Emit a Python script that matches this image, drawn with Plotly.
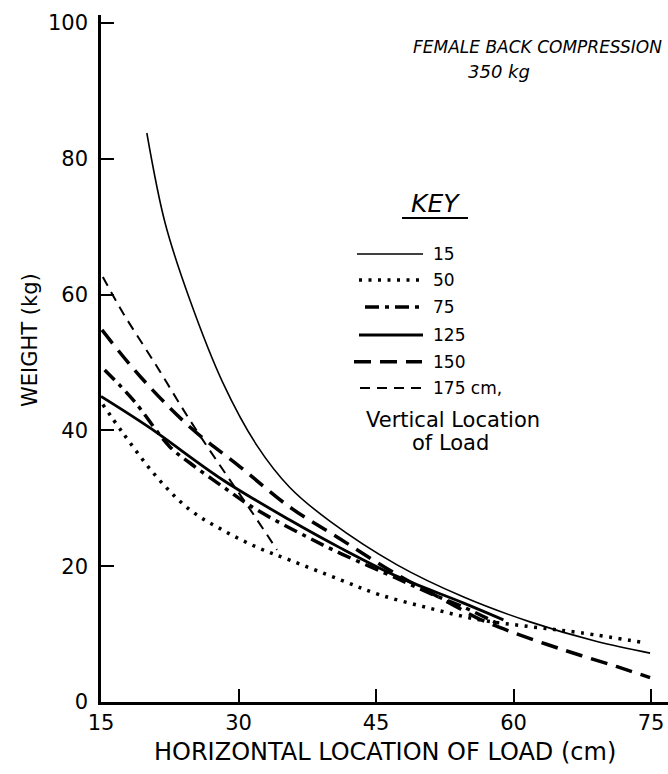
import plotly.graph_objects as go

# ---- data ----
x_15 = [20.0, 22.0, 24.7, 28.3, 32.0, 35.6, 40.0, 47.3, 54.5, 61.8, 69.1, 74.9]
y_15 = [83.8, 70.5, 59.2, 47.0, 37.8, 31.6, 26.6, 20.2, 15.5, 11.8, 8.9, 7.2]

x_50 = [15.2, 17.4, 21.1, 24.7, 28.3, 32.0, 35.6, 41.1, 45.4, 50.9, 56.3, 61.8, 67.3, 74.5]
y_50 = [43.8, 39.6, 33.1, 28.3, 25.3, 22.8, 20.9, 18.0, 15.8, 13.8, 12.1, 11.1, 10.2, 8.7]

x_75 = [15.4, 18.5, 22.5, 24.7, 28.3, 32.0, 37.5, 41.1, 47.3, 50.9, 54.5, 58.2]
y_75 = [48.9, 44.5, 37.6, 35.2, 31.7, 28.3, 24.3, 21.9, 18.2, 16.0, 14.0, 11.6]

x_125 = [15.0, 20.3, 28.3, 35.6, 41.1, 47.3, 54.5, 58.9]
y_125 = [45.0, 40.4, 32.7, 26.8, 22.7, 18.5, 14.6, 12.1]

x_150 = [15.1, 19.3, 24.7, 30.2, 35.6, 41.1, 47.0, 53.0, 56.0, 59.6, 65.4, 71.3, 74.9]
y_150 = [54.8, 47.9, 40.5, 34.6, 28.7, 24.0, 19.0, 14.6, 12.4, 10.4, 7.7, 5.2, 3.6]

x_175 = [15.2, 17.4, 21.1, 24.7, 28.3, 31.3, 34.2]
y_175 = [62.6, 57.3, 49.4, 41.5, 34.2, 28.3, 22.4]

x_ticks = [15, 30, 45, 60, 75]
y_ticks = [0, 20, 40, 60, 80, 100]
key_labels = ["15", "50", "75", "125", "150", "175 cm,"]

# ---- styles ----
styles = [
    dict(width=1.6, dash="solid"),
    dict(width=3.5, dash="3px,6.5px"),
    dict(width=3.5, dash="14px,6px,4px,6px"),
    dict(width=2.8, dash="solid"),
    dict(width=3.5, dash="17px,9px"),
    dict(width=2.0, dash="10px,7px"),
]
series = [(x_15, y_15), (x_50, y_50), (x_75, y_75),
          (x_125, y_125), (x_150, y_150), (x_175, y_175)]

W, H = 668, 774
L, R, T, B = 101, 0, 15, 72
FONT = "DejaVu Sans"


def pxx(xp):
    return (xp - L) / (W - L - R)


def pxy(yp):
    return (H - B - yp) / (H - T - B)


def label(text, xp, yp, size, xanchor="center", angle=0):
    return dict(text=text, x=pxx(xp), y=pxy(yp), xref="paper", yref="paper",
                xanchor=xanchor, yanchor="middle", showarrow=False, textangle=angle,
                font=dict(family=FONT, size=size, color="black"))


fig = go.Figure()
for (xs, ys), st, name in zip(series, styles, key_labels):
    fig.add_trace(go.Scatter(
        x=xs, y=ys, mode="lines", name=name,
        line=dict(color="black", width=st["width"], dash=st["dash"],
                  shape="spline", smoothing=1.0),
        showlegend=False, hoverinfo="x+y"))

annotations = []
shapes = []

# title
annotations.append(label("<i>FEMALE BACK COMPRESSION</i>", 664, 47, 17, xanchor="right"))
annotations.append(label("<i>350 kg</i>", 499, 71, 18))
# key
annotations.append(label("<i>KEY</i>", 435, 204, 25))
shapes.append(dict(type="line", xref="paper", yref="paper",
                   x0=pxx(402), x1=pxx(468), y0=pxy(218), y1=pxy(218),
                   line=dict(color="black", width=2)))
rows_y = [254, 280, 307, 335, 361.7, 388]
rows_x = [(357, 423), (359, 420), (365, 423), (359, 423), (354, 422), (360, 422)]
for lab, ry, (x0, x1), st in zip(key_labels, rows_y, rows_x, styles):
    shapes.append(dict(type="line", xref="paper", yref="paper",
                       x0=pxx(x0), x1=pxx(x1), y0=pxy(ry), y1=pxy(ry),
                       line=dict(color="black", width=st["width"], dash=st["dash"])))
    annotations.append(label(lab, 431, ry, 17, xanchor="left"))
annotations.append(label("Vertical Location", 453, 420, 21))
annotations.append(label("of Load", 450, 443, 21))
# axis titles
annotations.append(label("WEIGHT (kg)", 30, 340, 21, angle=-90))
annotations.append(label("HORIZONTAL LOCATION OF LOAD (cm)", 385, 752, 24))

x_per_px = 60 / 550.0
y_per_px = 100 / 679.0
fig.update_layout(
    width=W, height=H,
    margin=dict(l=L, r=R, t=T, b=B, pad=0),
    paper_bgcolor="white", plot_bgcolor="white",
    annotations=annotations, shapes=shapes,
    showlegend=False,
    xaxis=dict(range=[15, 15 + (W - L - R) * x_per_px], tickvals=x_ticks,
               ticktext=[str(v) for v in x_ticks],
               showgrid=False, zeroline=False, showline=True, linecolor="black",
               linewidth=2.5, ticks="inside", ticklen=13, tickwidth=2, tickcolor="black",
               tickfont=dict(family=FONT, size=21, color="black")),
    yaxis=dict(range=[0, (H - T - B) * y_per_px], tickvals=y_ticks,
               ticktext=[str(v) for v in y_ticks],
               showgrid=False, zeroline=False, showline=True, linecolor="black",
               linewidth=2.5, ticks="inside", ticklen=13, tickwidth=2, tickcolor="black",
               ticklabelstandoff=6,
               tickfont=dict(family=FONT, size=21, color="black")),
)

fig.write_html("out.html")
